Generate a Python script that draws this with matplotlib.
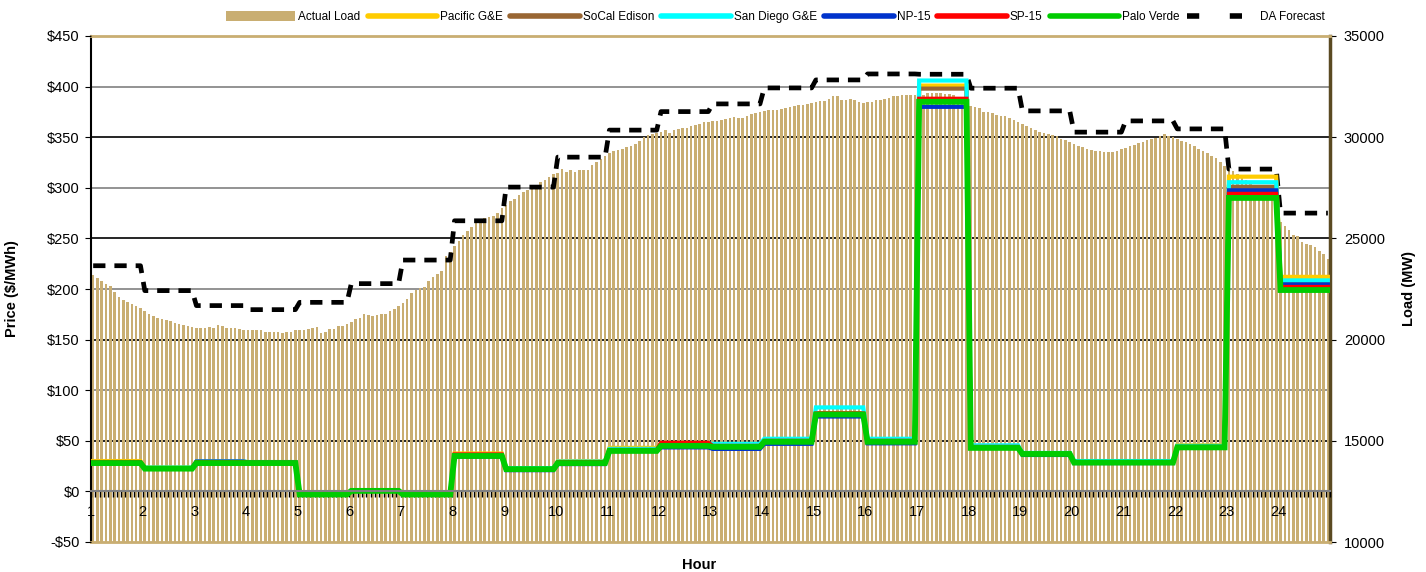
import matplotlib
matplotlib.use("Agg")
import matplotlib.pyplot as plt
import numpy as np
from matplotlib.lines import Line2D
from matplotlib.patches import Patch

plt.rcParams['font.family'] = ['Liberation Sans', 'DejaVu Sans']

hours = [str(h) for h in range(1, 25)]

# 5-minute actual load (MW), 12 values per hour
actual_load = [
    23190, 23050, 22900, 22750, 22635, 22335, 22100, 21950, 21875, 21750, 21675, 21550,
    21400, 21250, 21150, 21085, 21020, 20970, 20900, 20825, 20750, 20725, 20675, 20640,
    20590, 20560, 20590, 20625, 20560, 20725, 20650, 20590, 20560, 20560, 20525, 20480,
    20480, 20480, 20450, 20450, 20400, 20385, 20385, 20385, 20335, 20385, 20400, 20450,
    20480, 20480, 20525, 20560, 20600, 20335, 20385, 20500, 20525, 20650, 20650, 20750,
    20875, 21020, 21050, 21250, 21200, 21175, 21200, 21250, 21250, 21400, 21500, 21650,
    21800, 22020, 22285, 22450, 22565, 22615, 22915, 23115, 23260, 23410, 24125, 24350,
    24600, 24850, 25180, 25350, 25550, 25780, 25910, 26000, 26050, 26110, 26275, 26490,
    26650, 26840, 26970, 27120, 27270, 27385, 27485, 27600, 27765, 27900, 28015, 28160,
    28250, 28410, 28280, 28375, 28280, 28375, 28360, 28395, 28625, 28790, 28925, 29090,
    29225, 29300, 29370, 29420, 29500, 29585, 29670, 29835, 30015, 30115, 30150, 30215,
    30280, 30365, 30230, 30365, 30415, 30430, 30465, 30530, 30580, 30650, 30750, 30765,
    30800, 30815, 30850, 30880, 30930, 30980, 30930, 30965, 31050, 31145, 31195, 31240,
    31290, 31340, 31340, 31340, 31390, 31440, 31485, 31535, 31585, 31585, 31665, 31700,
    31750, 31780, 31780, 31880, 32025, 32025, 31830, 31830, 31865, 31830, 31730, 31685,
    31715, 31750, 31815, 31850, 31880, 31930, 32025, 32060, 32075, 32075, 32090, 32100,
    32075, 32075, 32175, 32175, 32175, 32160, 32125, 32125, 32090, 31900, 31750, 31675,
    31550, 31485, 31420, 31260, 31225, 31175, 31110, 31060, 31030, 30930, 30835, 30735,
    30660, 30565, 30465, 30365, 30265, 30215, 30165, 30100, 30035, 29915, 29850, 29750,
    29670, 29570, 29520, 29420, 29370, 29320, 29300, 29255, 29255, 29255, 29320, 29420,
    29470, 29570, 29620, 29720, 29750, 29870, 29915, 29965, 30050, 30165, 30050, 30000,
    29915, 29835, 29770, 29670, 29585, 29420, 29320, 29220, 29090, 28955, 28790, 28595,
    28475, 28350, 28175, 28050, 27900, 27775, 27600, 27500, 27375, 27200, 27100, 27000,
    25830, 25610, 25400, 25165, 25115, 24835, 24735, 24685, 24570, 24400, 24240, 23990,
]

# hourly day-ahead load forecast (MW)
da_forecast = [23650, 22420, 21680, 21480, 21840, 22765, 23930, 25870, 27535, 29015,
               30350, 31265, 31645, 32435, 32830, 33125, 33110, 32420, 31300, 30250,
               30805, 30410, 28425, 26250]

# hourly prices ($/MWh)
pge = [30, 23.5, 29.5, 29, -2.5, 1, -2.5, 37.5, 22.5, 30, 43, 47.5, 45, 50, 77, 50,
       401, 44, 37, 29, 29, 45.5, 311, 212]
sce = [29, 23, 29, 28.5, -3, 0.5, -3, 36, 22, 29, 41, 47, 45, 50, 77, 50,
       398, 44, 37, 29, 29, 44, 301, 206]
sdge = [29, 23.5, 29.5, 29, -2.5, 1, -2.5, 36, 23, 29.5, 42, 47, 47, 52, 83, 52,
        406, 45.5, 38, 30, 30, 45, 305.5, 208.5]
np15 = [28.5, 23, 29.5, 28.5, -3, 0.5, -3, 34.5, 21, 27, 40, 43.5, 42, 47, 74, 47.5,
        380, 43, 36, 28, 28, 43, 297.5, 204.5]
sp15 = [29, 23, 29, 28.5, -3, 0.5, -3, 36.5, 22, 29, 41, 48, 45, 50, 77, 50,
        388, 44, 37, 29, 29, 44, 294, 202]
palo_verde = [28, 22.5, 28, 28, -3, 0.5, -3, 35, 22, 28, 40, 45, 44, 49, 76, 49,
              385, 43, 37, 28.5, 28.5, 43.5, 290, 199]

TAN = '#C9AE72'
n = len(actual_load)
x = np.arange(n)

fig = plt.figure(figsize=(14.26, 5.72), dpi=100)
ax = fig.add_axes([91 / 1426, 1 - 542 / 572, 1239 / 1426, 506 / 572])
ax2 = ax.twinx()
ax.set_zorder(ax2.get_zorder() + 1)
ax.patch.set_visible(False)

# load axis (right)
ax2.set_ylim(10000, 35000)
for yv in np.arange(15000, 35000, 2500):
    col = '#000000' if yv % 5000 == 0 else '#808080'
    ax2.axhline(yv, color=col, lw=1.2, zorder=0.5)
ax2.bar(x, np.array(actual_load) - 10000, bottom=10000, width=0.6, color=TAN,
        zorder=1, linewidth=0)
ax2.plot(x, np.repeat(da_forecast, 12), color='black', lw=3.4,
         ls=(0, (2.6, 1.9)), zorder=3)

ax2.set_yticks(np.arange(10000, 35001, 5000))
ax2.set_yticklabels([str(v) for v in range(10000, 35001, 5000)])
ax2.tick_params(axis='y', direction='out', length=4, labelsize=10.5, pad=6,
                colors='black')
ax2.set_ylabel('Load (MW)', fontsize=10.5, fontweight='bold', labelpad=12)
ax2.spines['top'].set_color(TAN)
ax2.spines['top'].set_linewidth(2)
ax2.spines['bottom'].set_color(TAN)
ax2.spines['bottom'].set_linewidth(2)
ax2.spines['right'].set_color('#5A4A22')
ax2.spines['right'].set_linewidth(2.5)
ax2.spines['left'].set_color('black')
ax2.spines['left'].set_linewidth(1.5)

# price axis (left)
ax.set_ylim(-50, 450)
ax.set_xlim(-0.5, n - 0.5)
series = [
    ('Pacific G&E', pge, '#FFCC00', 3.0),
    ('SoCal Edison', sce, '#996633', 3.0),
    ('San Diego G&E', sdge, '#00FFFF', 3.0),
    ('NP-15', np15, '#0033CC', 3.0),
    ('SP-15', sp15, '#FF0000', 3.0),
    ('Palo Verde', palo_verde, '#00CC00', 4.2),
]
for name, vals, col, lw in series:
    ax.plot(x, np.repeat(vals, 12), color=col, lw=lw, solid_joinstyle='miter')

ax.set_yticks(np.arange(-50, 451, 50))
ax.set_yticklabels([('-$%d' % -v) if v < 0 else ('$%d' % v)
                    for v in range(-50, 451, 50)])
ax.tick_params(axis='y', direction='out', length=4, labelsize=10.5, pad=4)
ax.set_ylabel('Price ($/MWh)', fontsize=10.5, fontweight='bold', labelpad=20)

ax.spines['bottom'].set_position(('data', 0))
ax.spines['bottom'].set_color('#808080')
ax.spines['bottom'].set_linewidth(1.5)
for s in ['top', 'left', 'right']:
    ax.spines[s].set_visible(False)
ax.set_xticks(np.arange(0, n, 12) - 0.5)
ax.set_xticklabels(hours)
ax.set_xticks(np.arange(0, n + 1) - 0.5, minor=True)
ax.tick_params(axis='x', which='major', direction='out', length=4, width=1,
               labelsize=10.5, pad=6)
ax.tick_params(axis='x', which='minor', direction='out', length=4, width=1)
fig.text(0.49, 1 - 565 / 572, 'Hour', ha='center', va='center', fontsize=10.5,
         fontweight='bold')

# legend
handles = [Patch(facecolor=TAN, edgecolor='none', label='Actual Load')]
for name, vals, col, lw in series:
    handles.append(Line2D([], [], color=col, lw=4, solid_capstyle='round',
                          label=name))
handles.append(Line2D([], [], color='black', lw=4, ls=(0, (2.2, 5.5)),
                      label='DA Forecast'))
fig.legend(handles=handles, loc='center', bbox_to_anchor=(775 / 1426, 0.97),
           ncol=8, frameon=False, fontsize=8.5, handlelength=5.9,
           handletextpad=0.25, columnspacing=0.6, handleheight=0.9)

fig.savefig('out.png', dpi=100)
